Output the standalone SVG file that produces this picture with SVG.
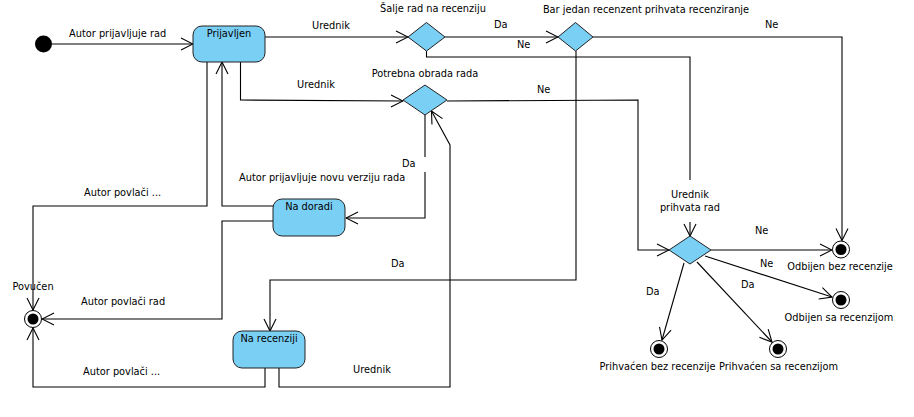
<svg xmlns="http://www.w3.org/2000/svg" width="914" height="417" viewBox="0 0 914 417">
<style>
text{font-family:"DejaVu Sans","Liberation Sans",sans-serif;font-size:9.8px;fill:#000}
.c{text-anchor:middle}
.state{fill:#7ACFF5;stroke:#222;stroke-width:1}
.dec{fill:#7ACFF5;stroke:#222;stroke-width:1}
.conn{fill:none;stroke:#000;stroke-width:1.1;marker-end:url(#arr)}
.ring{fill:#fff;stroke:#000;stroke-width:1}
.dot{fill:#000}
</style>
<defs>
<marker id="arr" viewBox="-13 -7 14 14" markerWidth="14" markerHeight="14" refX="0" refY="0" orient="auto" markerUnits="userSpaceOnUse">
<path d="M-12,-6 L0,0 L-12,6" fill="none" stroke="#000" stroke-width="1.1"/>
</marker>
</defs>
<rect width="914" height="417" fill="#fff"/>

<g id="connectors">
<path class="conn" d="M52,44 L193,44"/>
<path class="conn" d="M265,37 L408,37"/>
<path class="conn" d="M445,37 L558,37"/>
<path class="conn" d="M426.5,51 L426.5,57 L690,57 L690,180 M690,222 L690,236"/>
<path class="conn" d="M593,37 L842,37 L842,240.5"/>
<path class="conn" d="M576,51 L576,280 L270,280 L270,331"/>
<path class="conn" d="M240.5,62 L240.5,100 L403,101"/>
<path class="conn" d="M447,101 L638,100 L638,250 L669,250"/>
<path class="conn" d="M425,115 L425,157 M425,172 L425,218 L346,218"/>
<path class="conn" d="M273,206 L222,206 L222,62"/>
<path class="conn" d="M273,221 L222,221 L222,319 L42,319"/>
<path class="conn" d="M207,62 L207,206 L33,206 L33,310"/>
<path class="conn" d="M265,368 L265,387 L33,387 L33,328"/>
<path class="conn" d="M279,368 L279,387 L450,387 L450,145 L431.5,111"/>
<path class="conn" d="M711,250 L832,250"/>
<path class="conn" d="M705,256 L832,297"/>
<path class="conn" d="M684,263 L662,340"/>
<path class="conn" d="M697,262 L772,342"/>
<text x="69" y="37">Autor prijavljuje rad</text>
<text x="312" y="29">Urednik</text>
<text x="494" y="28">Da</text>
<text x="517" y="48">Ne</text>
<text x="765" y="28">Ne</text>
<text x="297" y="87.5">Urednik</text>
<text x="537" y="93">Ne</text>
<text x="402" y="167">Da</text>
<text x="239" y="181">Autor prijavljuje novu verziju rada</text>
<text x="84" y="196">Autor povlači ...</text>
<text x="81" y="305">Autor povlači rad</text>
<text x="83" y="375">Autor povlači ...</text>
<text x="353" y="373">Urednik</text>
<text x="391" y="267">Da</text>
<text x="755" y="234">Ne</text>
<text x="760" y="267">Ne</text>
<text x="646" y="295">Da</text>
<text x="741" y="288">Da</text>
</g>

<g id="initial">
<circle cx="43.5" cy="44" r="8.5" class="dot"/>
</g>

<g id="prijavljen">
<rect x="193" y="26" width="72" height="36" rx="9" class="state"/>
<text x="229" y="37" class="c">Prijavljen</text>
</g>

<g id="na-doradi">
<rect x="273" y="199" width="72" height="37" rx="9" class="state"/>
<text x="309" y="210" class="c">Na doradi</text>
</g>

<g id="na-recenziji">
<rect x="233" y="331" width="72" height="37" rx="9" class="state"/>
<text x="269" y="342" class="c">Na recenziji</text>
</g>

<g id="dec-salje">
<polygon points="408,37 426.5,22.5 445,37 426.5,51" class="dec"/>
<text x="433" y="12" class="c">Šalje rad na recenziju</text>
</g>

<g id="dec-bar-jedan">
<polygon points="558,37 575.5,22.5 593,37 575.5,51" class="dec"/>
<text x="646" y="13" class="c">Bar jedan recenzent prihvata recenziranje</text>
</g>

<g id="dec-potrebna">
<polygon points="403,100 425,85 447,100 425,115" class="dec"/>
<text x="425" y="77" class="c">Potrebna obrada rada</text>
</g>

<g id="dec-urednik-prihvata">
<polygon points="669,250 690,236 711,250 690,264" class="dec"/>
<text x="690" y="197.5" class="c">Urednik</text>
<text x="690" y="210.5" class="c">prihvata rad</text>
</g>

<g id="povucen">
<circle cx="33" cy="319" r="8.5" class="ring"/>
<circle cx="33" cy="319" r="5.5" class="dot"/>
<text x="33" y="290" class="c">Povučen</text>
</g>

<g id="odbijen-bez">
<circle cx="841" cy="249.5" r="8.5" class="ring"/>
<circle cx="841" cy="249.5" r="5.5" class="dot"/>
<text x="840" y="269.5" class="c">Odbijen bez recenzije</text>
</g>

<g id="odbijen-sa">
<circle cx="841" cy="300" r="8.5" class="ring"/>
<circle cx="841" cy="300" r="5.5" class="dot"/>
<text x="839" y="320.5" class="c">Odbijen sa recenzijom</text>
</g>

<g id="prihvacen-bez">
<circle cx="659" cy="349" r="8.5" class="ring"/>
<circle cx="659" cy="349" r="5.5" class="dot"/>
<text x="657.5" y="370" class="c">Prihvaćen bez recenzije</text>
</g>

<g id="prihvacen-sa">
<circle cx="778" cy="349" r="8.5" class="ring"/>
<circle cx="778" cy="349" r="5.5" class="dot"/>
<text x="778.5" y="370" class="c">Prihvaćen sa recenzijom</text>
</g>
</svg>
